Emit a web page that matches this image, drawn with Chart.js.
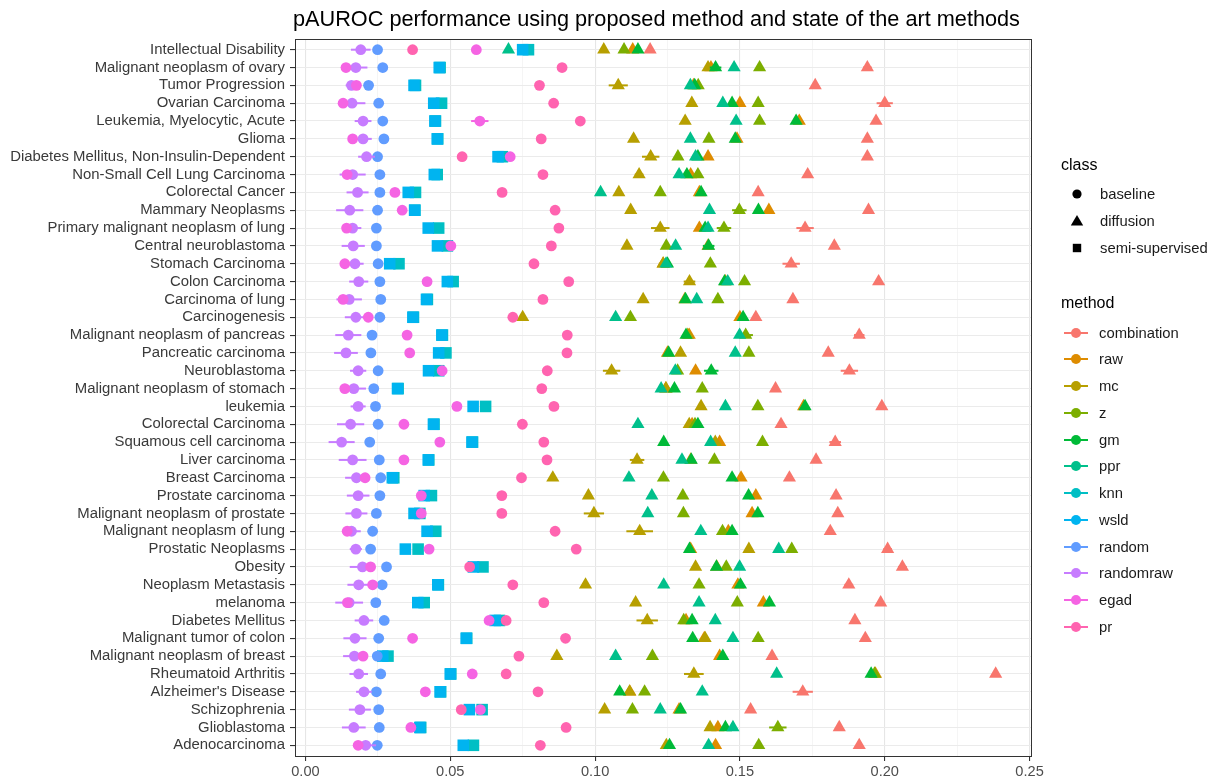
<!DOCTYPE html>
<html>
<head>
<meta charset="utf-8">
<script src="https://cdn.jsdelivr.net/npm/chart.js@4.4.1/dist/chart.umd.min.js"></script>
<style>
  html, body { margin: 0; padding: 0; background: #fff; }
  body { width: 1218px; height: 778px; overflow: hidden; position: relative;
         font-family: "Liberation Sans", Arial, sans-serif; }
  #chart { position: absolute; left: 0; top: 0; }
  #title { position: absolute; left: 293px; top: 7px; font-size: 21.7px; line-height: 24px;
           color: #000; white-space: nowrap; }
  .lg-title { position: absolute; font-size: 16px; line-height: 18px; color: #000; white-space: nowrap; }
  .lg-item { position: absolute; font-size: 14.8px; line-height: 18px; color: #1a1a1a; white-space: nowrap; }
  .lg-key { position: absolute; }
</style>
</head>
<body>
<canvas id="chart" width="1218" height="778"></canvas>
<div id="title">pAUROC performance using proposed method and state of the art methods</div>
<div id="legend"></div>
<script>
// Diseases, top to bottom
const diseases = [
  "Intellectual Disability", "Malignant neoplasm of ovary", "Tumor Progression", "Ovarian Carcinoma",
  "Leukemia, Myelocytic, Acute", "Glioma", "Diabetes Mellitus, Non-Insulin-Dependent",
  "Non-Small Cell Lung Carcinoma", "Colorectal Cancer", "Mammary Neoplasms",
  "Primary malignant neoplasm of lung", "Central neuroblastoma", "Stomach Carcinoma", "Colon Carcinoma",
  "Carcinoma of lung", "Carcinogenesis", "Malignant neoplasm of pancreas", "Pancreatic carcinoma",
  "Neuroblastoma", "Malignant neoplasm of stomach", "leukemia", "Colorectal Carcinoma",
  "Squamous cell carcinoma", "Liver carcinoma", "Breast Carcinoma", "Prostate carcinoma",
  "Malignant neoplasm of prostate", "Malignant neoplasm of lung", "Prostatic Neoplasms", "Obesity",
  "Neoplasm Metastasis", "melanoma", "Diabetes Mellitus", "Malignant tumor of colon",
  "Malignant neoplasm of breast", "Rheumatoid Arthritis", "Alzheimer's Disease", "Schizophrenia",
  "Glioblastoma", "Adenocarcinoma"
];

// Methods (legend order), their class and colour
const methods = ["combination", "raw", "mc", "z", "gm", "ppr", "knn", "wsld", "random", "randomraw", "egad", "pr"];
const methodClass = ["diffusion", "diffusion", "diffusion", "diffusion", "diffusion", "diffusion",
                     "semi-supervised", "semi-supervised", "baseline", "baseline", "baseline", "baseline"];
const methodColors = ["#F8766D", "#DE8C00", "#B79F00", "#7CAE00", "#00BA38", "#00C08B",
                      "#00BFC4", "#00B4F0", "#619CFF", "#C77CFF", "#F564E3", "#FF64B0"];
const classes = ["baseline", "diffusion", "semi-supervised"];

// pAUROC per disease (same order as diseases)
const combination = [0.119, 0.194, 0.176, 0.200, 0.197, 0.194, 0.194, 0.1734, 0.1563, 0.1944,
  0.1725, 0.1826, 0.1677, 0.1979, 0.1683, 0.1555, 0.1912, 0.1805, 0.1878, 0.1623,
  0.1990, 0.1642, 0.1829, 0.1763, 0.1671, 0.1832, 0.1838, 0.1812, 0.2010, 0.2061,
  0.1876, 0.1986, 0.1897, 0.1933, 0.1611, 0.2383, 0.1717, 0.1537, 0.1843, 0.1912];
const raw = [0.113, 0.140, 0.134, 0.150, 0.1705, 0.149, 0.139, 0.133, 0.136, 0.160,
  0.136, 0.139, 0.1235, 0.145, 0.131, 0.150, 0.1325, 0.125, 0.1347, 0.1244,
  0.172, 0.1335, 0.143, 0.133, 0.1504, 0.1555, 0.1542, 0.146, 0.133, 0.142,
  0.1493, 0.1581, 0.1314, 0.1377, 0.143, 0.1968, 0.112, 0.129, 0.1424, 0.1416];
const mc = [0.103, 0.139, 0.108, 0.1334, 0.1311, 0.1133, 0.1192, 0.1152, 0.1082, 0.1123,
  0.1225, 0.111, 0.1235, 0.1326, 0.1166, 0.075, 0.132, 0.1295, 0.1057, 0.1245,
  0.1366, 0.1325, 0.1415, 0.1145, 0.0854, 0.0977, 0.0996, 0.1154, 0.1531, 0.1347,
  0.0967, 0.1140, 0.118, 0.138, 0.0868, 0.1341, 0.1119, 0.1033, 0.1397, 0.1246];
const z = [0.110, 0.1568, 0.1356, 0.1563, 0.1568, 0.1393, 0.1286, 0.1355, 0.1225, 0.1498,
  0.1445, 0.1246, 0.1398, 0.1516, 0.1424, 0.1122, 0.152, 0.1531, 0.1285, 0.137,
  0.1562, 0.1345, 0.1578, 0.1412, 0.1236, 0.1303, 0.1305, 0.1440, 0.1679, 0.1453,
  0.1359, 0.1491, 0.1306, 0.1563, 0.1198, 0.1965, 0.1171, 0.1129, 0.1631, 0.1565];
const gm = [0.1148, 0.1416, 0.1344, 0.1473, 0.1694, 0.1484, 0.1355, 0.1317, 0.1366, 0.1564,
  0.138, 0.1392, 0.125, 0.1447, 0.1312, 0.1511, 0.1314, 0.1254, 0.1401, 0.1274,
  0.1725, 0.1355, 0.1237, 0.1332, 0.1473, 0.1530, 0.1562, 0.1473, 0.1326, 0.1419,
  0.1502, 0.1602, 0.1335, 0.1337, 0.1441, 0.1953, 0.1085, 0.1295, 0.145, 0.1257];
const ppr = [0.0701, 0.148, 0.1329, 0.1441, 0.1487, 0.1329, 0.1347, 0.129, 0.1019, 0.1395,
  0.139, 0.1278, 0.1245, 0.1458, 0.1351, 0.1071, 0.1499, 0.1484, 0.1277, 0.1228,
  0.1450, 0.1148, 0.1399, 0.130, 0.1117, 0.1196, 0.1182, 0.1365, 0.1634, 0.1499,
  0.1237, 0.1359, 0.1415, 0.1476, 0.1071, 0.1627, 0.137, 0.1225, 0.1476, 0.1392];
const knn = [0.077, 0.0465, 0.038, 0.047, 0.0449, 0.0457, 0.068, 0.0455, 0.038, 0.0378,
  0.046, 0.049, 0.0323, 0.051, 0.0421, 0.0373, 0.0473, 0.0485, 0.046, 0.032,
  0.0622, 0.0444, 0.0577, 0.0426, 0.0305, 0.0435, 0.0395, 0.045, 0.0389, 0.0613,
  0.0459, 0.041, 0.067, 0.0557, 0.0285, 0.0502, 0.0467, 0.061, 0.0398, 0.058];
const wsld = [0.075, 0.0462, 0.0375, 0.0443, 0.0447, 0.0455, 0.0665, 0.0445, 0.0355, 0.0377,
  0.0424, 0.0456, 0.0291, 0.049, 0.0418, 0.0371, 0.0471, 0.046, 0.0425, 0.0318,
  0.0579, 0.0442, 0.0575, 0.0424, 0.030, 0.041, 0.0375, 0.042, 0.0345, 0.058,
  0.0457, 0.0388, 0.0655, 0.0555, 0.0267, 0.0500, 0.0465, 0.0566, 0.0395, 0.0545];
const random = [0.0249, 0.0267, 0.0218, 0.0253, 0.0267, 0.0271, 0.0249, 0.0257, 0.0257, 0.0249,
  0.0245, 0.0245, 0.0251, 0.0257, 0.026, 0.0257, 0.023, 0.0226, 0.0251, 0.0236,
  0.0242, 0.0251, 0.0222, 0.0255, 0.026, 0.0257, 0.0245, 0.0232, 0.0225, 0.028,
  0.0265, 0.0243, 0.0272, 0.0253, 0.0248, 0.026, 0.0245, 0.0253, 0.0255, 0.0248];
const randomraw = [0.0191, 0.0174, 0.0159, 0.0161, 0.0199, 0.0199, 0.0211, 0.0163, 0.018, 0.0153,
  0.0163, 0.0165, 0.0171, 0.0184, 0.0151, 0.0174, 0.0148, 0.014, 0.0182, 0.0167,
  0.0182, 0.0156, 0.0125, 0.0163, 0.0176, 0.0182, 0.0176, 0.0159, 0.0174, 0.0197,
  0.0184, 0.0151, 0.0202, 0.0171, 0.0169, 0.0184, 0.0202, 0.0188, 0.0167, 0.0208];
const egad = [0.059, 0.014, 0.0176, 0.013, 0.0602, 0.0163, 0.0707, 0.0144, 0.0309, 0.0334,
  0.0142, 0.0502, 0.0136, 0.042, 0.013, 0.0217, 0.0351, 0.036, 0.0472, 0.0136,
  0.0523, 0.034, 0.0464, 0.034, 0.0206, 0.040, 0.040, 0.0144, 0.0427, 0.0225,
  0.0232, 0.0145, 0.0634, 0.037, 0.0199, 0.0576, 0.0414, 0.0604, 0.0364, 0.0182];
const pr = [0.037, 0.0886, 0.0808, 0.0857, 0.0949, 0.0814, 0.0541, 0.082, 0.0679, 0.0862,
  0.0875, 0.0849, 0.0789, 0.0909, 0.082, 0.0716, 0.0904, 0.0903, 0.0835, 0.0816,
  0.0858, 0.0749, 0.0823, 0.0834, 0.0746, 0.0678, 0.0678, 0.0862, 0.0935, 0.0567,
  0.0716, 0.0823, 0.0693, 0.0898, 0.0737, 0.0693, 0.0803, 0.0538, 0.0900, 0.0811];

// Half-width of the spread around each estimate
const errCombination = [0.001, 0.0015, 0.001, 0.0028, 0.001, 0.001, 0.001, 0.001, 0.001, 0.001,
  0.003, 0.001, 0.003, 0.001, 0.001, 0.001, 0.0018, 0.001, 0.003, 0.001,
  0.001, 0.001, 0.002, 0.001, 0.001, 0.001, 0.001, 0.001, 0.0015, 0.0015,
  0.0015, 0.001, 0.001, 0.001, 0.001, 0.001, 0.0035, 0.001, 0.001, 0.001];
const errMc = [0.001, 0.001, 0.0033, 0.001, 0.001, 0.001, 0.003, 0.0015, 0.001, 0.001,
  0.0032, 0.001, 0.0015, 0.002, 0.001, 0.001, 0.001, 0.001, 0.003, 0.001,
  0.001, 0.001, 0.001, 0.0025, 0.001, 0.001, 0.0035, 0.0046, 0.001, 0.001,
  0.001, 0.001, 0.0037, 0.001, 0.001, 0.0034, 0.001, 0.001, 0.001, 0.001];
const errZ = [0.001, 0.001, 0.001, 0.001, 0.001, 0.001, 0.001, 0.001, 0.001, 0.0025,
  0.0025, 0.001, 0.001, 0.001, 0.001, 0.001, 0.0025, 0.001, 0.001, 0.001,
  0.001, 0.001, 0.001, 0.001, 0.001, 0.001, 0.001, 0.001, 0.001, 0.001,
  0.001, 0.001, 0.001, 0.001, 0.001, 0.001, 0.001, 0.001, 0.003, 0.001];
const errGm = [0.001, 0.002, 0.001, 0.001, 0.001, 0.001, 0.001, 0.001, 0.001, 0.001,
  0.001, 0.002, 0.001, 0.001, 0.001, 0.001, 0.001, 0.001, 0.0025, 0.001,
  0.001, 0.001, 0.001, 0.001, 0.001, 0.001, 0.001, 0.001, 0.001, 0.001,
  0.001, 0.001, 0.001, 0.001, 0.001, 0.001, 0.001, 0.001, 0.001, 0.001];
const errRandomraw = [0.0034, 0.004, 0.002, 0.0046, 0.0029, 0.003, 0.0029, 0.0045, 0.0038, 0.0047,
  0.003, 0.004, 0.003, 0.0033, 0.0044, 0.0038, 0.0045, 0.0041, 0.0028, 0.0042,
  0.0026, 0.0047, 0.0045, 0.0048, 0.0039, 0.0039, 0.0038, 0.0032, 0.0021, 0.0044,
  0.0039, 0.0048, 0.0032, 0.004, 0.0039, 0.0032, 0.0027, 0.0038, 0.0041, 0.0036];
const errEgad = [0.001, 0.001, 0.001, 0.001, 0.003, 0.001, 0.001, 0.001, 0.001, 0.001,
  0.001, 0.001, 0.001, 0.001, 0.001, 0.001, 0.001, 0.001, 0.001, 0.001,
  0.001, 0.001, 0.001, 0.001, 0.001, 0.001, 0.001, 0.001, 0.001, 0.001,
  0.001, 0.001, 0.001, 0.001, 0.001, 0.001, 0.001, 0.001, 0.001, 0.001];

// X axis tick positions; only every second one carries a label
const xTicks = [0, 0.025, 0.05, 0.075, 0.10, 0.125, 0.15, 0.175, 0.20, 0.225, 0.25];

const values = { combination, raw, mc, z, gm, ppr, knn, wsld, random, randomraw, egad, pr };
const errors = { combination: errCombination, mc: errMc, z: errZ, gm: errGm, randomraw: errRandomraw, egad: errEgad };

const pointStyles = { "baseline": "circle", "diffusion": "triangle", "semi-supervised": "rect" };
const pointRadii = { "baseline": 5.4, "diffusion": 7.6, "semi-supervised": 8.2 };

const datasets = methods.map((m, i) => {
  const cls = methodClass[i];
  const err = errors[m];
  return {
    label: m,
    data: values[m].map((v, k) => ({ x: v, y: k, err: err ? err[k] : 0 })),
    backgroundColor: methodColors[i],
    borderColor: methodColors[i],
    borderWidth: 0,
    pointStyle: pointStyles[cls],
    pointRadius: pointRadii[cls],
    pointHoverRadius: pointRadii[cls],
    order: methods.length - 1 - i
  };
});

// Horizontal range line behind each point, drawn with its own series
const errorBars = {
  id: 'errorBars',
  beforeDatasetDraw(chart, args) {
    const ds = chart.data.datasets[args.index];
    const { ctx, scales: { x, y } } = chart;
    ctx.save();
    ctx.strokeStyle = ds.borderColor;
    ctx.lineWidth = 2;
    ds.data.forEach(p => {
      if (!p.err) return;
      const py = y.getPixelForValue(p.y);
      ctx.beginPath();
      ctx.moveTo(x.getPixelForValue(p.x - p.err), py);
      ctx.lineTo(x.getPixelForValue(p.x + p.err), py);
      ctx.stroke();
    });
    ctx.restore();
  }
};

// Dark frame around the plotting panel
const panelBorder = {
  id: 'panelBorder',
  afterDatasetsDraw(chart) {
    const { ctx, chartArea: a } = chart;
    ctx.save();
    ctx.strokeStyle = '#333333';
    ctx.lineWidth = 1;
    ctx.strokeRect(Math.round(a.left) + 0.5, Math.round(a.top) + 0.5,
                   Math.round(a.right - a.left), Math.round(a.bottom - a.top));
    ctx.restore();
  }
};

const isMajor = v => Math.round(v / 0.025) % 2 === 0;
const FONT = "'Liberation Sans', Arial, sans-serif";

new Chart(document.getElementById('chart'), {
  type: 'scatter',
  data: { datasets },
  options: {
    responsive: false,
    animation: false,
    devicePixelRatio: 1,
    layout: { padding: { left: 0, right: 187, top: 39, bottom: 0 } },
    plugins: { legend: { display: false }, tooltip: { enabled: false }, title: { display: false } },
    scales: {
      x: {
        type: 'linear',
        min: -0.0036,
        max: 0.2505,
        afterBuildTicks: s => { s.ticks = xTicks.map(v => ({ value: v })); },
        afterFit: s => { s.height = 22; },
        ticks: {
          autoSkip: false, maxRotation: 0, padding: 2,
          color: '#4d4d4d',
          font: { family: FONT, size: 14.6 },
          callback: v => isMajor(v) ? v.toFixed(2) : ''
        },
        grid: {
          color: c => isMajor(c.tick.value) ? '#E6E6E6' : '#F2F2F2',
          lineWidth: c => isMajor(c.tick.value) ? 1.1 : 0.8,
          tickLength: 5,
          tickColor: c => isMajor(c.tick.value) ? '#333333' : 'rgba(0,0,0,0)'
        },
        border: { display: false }
      },
      y: {
        type: 'linear',
        reverse: true,
        min: -0.6,
        max: 39.6,
        afterBuildTicks: s => { s.ticks = diseases.map((_, i) => ({ value: i })); },
        afterFit: s => { s.width = 295; },
        ticks: {
          autoSkip: false, padding: 5,
          color: '#3a3a3a',
          font: { family: FONT, size: 14.9 },
          callback: v => diseases[v]
        },
        grid: { color: '#EBEBEB', lineWidth: 1.1, tickLength: 5, tickColor: '#333333' },
        border: { display: false }
      }
    }
  },
  plugins: [errorBars, panelBorder]
});

// Legend: point shape by class, colour by method
const legend = document.getElementById('legend');
const SVGNS = 'http://www.w3.org/2000/svg';
function keySvg(shape, color, withLine) {
  const svg = document.createElementNS(SVGNS, 'svg');
  svg.setAttribute('width', 26); svg.setAttribute('height', 16);
  if (withLine) {
    const ln = document.createElementNS(SVGNS, 'line');
    ln.setAttribute('x1', 1); ln.setAttribute('x2', 25); ln.setAttribute('y1', 8); ln.setAttribute('y2', 8);
    ln.setAttribute('stroke', color); ln.setAttribute('stroke-width', 2);
    svg.appendChild(ln);
  }
  let el;
  if (shape === 'circle') {
    el = document.createElementNS(SVGNS, 'circle');
    el.setAttribute('cx', 13); el.setAttribute('cy', 8); el.setAttribute('r', withLine ? 5 : 4.6);
  } else if (shape === 'triangle') {
    el = document.createElementNS(SVGNS, 'polygon');
    el.setAttribute('points', '13,2 19.2,12.5 6.8,12.5');
  } else {
    el = document.createElementNS(SVGNS, 'rect');
    el.setAttribute('x', 8.8); el.setAttribute('y', 3.8); el.setAttribute('width', 8.4); el.setAttribute('height', 8.4);
  }
  el.setAttribute('fill', color);
  svg.appendChild(el);
  return svg;
}
function addText(cls, text, left, centerY) {
  const d = document.createElement('div');
  d.className = cls; d.textContent = text;
  d.style.left = left + 'px'; d.style.top = (centerY - 9) + 'px';
  legend.appendChild(d);
}
function addKey(svg, centerX, centerY) {
  svg.classList.add('lg-key');
  svg.style.left = (centerX - 13) + 'px'; svg.style.top = (centerY - 8) + 'px';
  legend.appendChild(svg);
}
addText('lg-title', 'class', 1061, 165);
classes.forEach((c, i) => {
  const cy = 193.5 + i * 27;
  addKey(keySvg(c === 'baseline' ? 'circle' : c === 'diffusion' ? 'triangle' : 'square', '#000', false), 1077, cy);
  addText('lg-item', c, 1100, cy);
});
addText('lg-title', 'method', 1061, 303);
methods.forEach((m, i) => {
  const cy = 332.7 + i * 26.75;
  addKey(keySvg('circle', methodColors[i], true), 1076, cy);
  addText('lg-item', m, 1099, cy);
});
</script>
</body>
</html>
